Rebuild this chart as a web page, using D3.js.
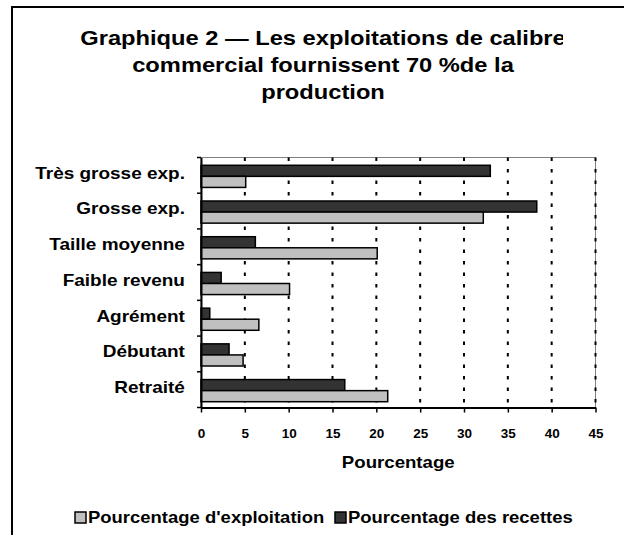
<!DOCTYPE html>
<html>
<head>
  <meta charset="utf-8">
  <script src="https://d3js.org/d3.v7.min.js"></script>
  <style>
    body { margin: 0; background: #fff; }
    text { font-family: "Liberation Sans", Arial, sans-serif; font-weight: bold; fill: #000; }
  </style>
</head>
<body>
  <svg id="chart"></svg>
  <script>
    // categories, top to bottom
    var categories = ["Très grosse exp.", "Grosse exp.", "Taille moyenne", "Faible revenu", "Agrément", "Débutant", "Retraité"];
    // series values (%)
    var recettes = [33, 38.3, 6.2, 2.3, 1.0, 3.2, 16.4];
    var exploitation = [5.1, 32.2, 20.1, 10.1, 6.6, 4.8, 21.3];
    var seriesNames = ["Pourcentage d'exploitation", "Pourcentage des recettes"];
    var xTicks = [0, 5, 10, 15, 20, 25, 30, 35, 40, 45];
    var titleLines = ["Graphique 2 — Les exploitations de calibre", "commercial fournissent 70 %de la", "production"];

    var W = 624, H = 535;
    var plot = { left: 201, right: 595.5, top: 157.5, bottom: 407.5 };
    var dark = "#333333", light = "#c0c0c0";

    var svg = d3.select("#chart").attr("width", W).attr("height", H);

    // outer frame (only left and top visible)
    svg.append("rect")
      .attr("x", 12).attr("y", 7).attr("width", 700).attr("height", 600)
      .attr("fill", "#fff").attr("stroke", "#000").attr("stroke-width", 2);

    // helper for horizontally stretched text
    function stretched(parent, x, y, str, size, sx, anchor) {
      return parent.append("text")
        .attr("transform", "translate(" + x + "," + y + ") scale(" + sx + ",1)")
        .attr("text-anchor", anchor || "middle")
        .style("font-size", size + "px")
        .text(str);
    }

    // title (first line is clipped on the right like in the source)
    svg.append("clipPath").attr("id", "titleClip")
      .append("rect").attr("x", 0).attr("y", 0).attr("width", 563).attr("height", 120);
    var title = svg.append("g").attr("clip-path", "url(#titleClip)");
    titleLines.forEach(function (t, i) {
      stretched(title, 323, 45 + i * 27, t, 20, 1.185);
    });

    // scales
    var x = d3.scaleLinear().domain([0, 45]).range([plot.left, plot.right]);
    var y = d3.scaleBand().domain(categories).range([plot.top, plot.bottom])
      .paddingInner(0.38).paddingOuter(0.19);
    var ySub = d3.scaleBand().domain(["recettes", "exploitation"]).range([0, y.bandwidth()]);

    // plot area border
    svg.append("rect")
      .attr("x", plot.left).attr("y", plot.top)
      .attr("width", plot.right - plot.left).attr("height", plot.bottom - plot.top)
      .attr("fill", "#fff").attr("stroke", "#808080").attr("stroke-width", 1);

    // dashed gridlines
    svg.append("g").selectAll("line")
      .data(xTicks.slice(1))
      .enter().append("line")
      .attr("x1", function (d) { return x(d); })
      .attr("x2", function (d) { return x(d); })
      .attr("y1", plot.top).attr("y2", plot.bottom)
      .attr("stroke", "#000").attr("stroke-width", 2)
      .attr("stroke-dasharray", "3.5,8");

    // bars
    var rows = categories.map(function (c, i) {
      return { cat: c, recettes: recettes[i], exploitation: exploitation[i] };
    });
    var groups = svg.append("g").selectAll("g")
      .data(rows).enter().append("g")
      .attr("transform", function (d) { return "translate(0," + (y(d.cat) + 1) + ")"; });
    groups.append("rect")
      .attr("x", x(0))
      .attr("y", ySub("recettes"))
      .attr("width", function (d) { return x(d.recettes) - x(0); })
      .attr("height", ySub.bandwidth())
      .attr("fill", dark).attr("stroke", "#000").attr("stroke-width", 1.5);
    groups.append("rect")
      .attr("x", x(0))
      .attr("y", ySub("exploitation"))
      .attr("width", function (d) { return x(d.exploitation) - x(0); })
      .attr("height", ySub.bandwidth())
      .attr("fill", light).attr("stroke", "#000").attr("stroke-width", 1.5);

    // x axis
    var xAxis = svg.append("g")
      .attr("transform", "translate(0," + plot.bottom + ")")
      .call(d3.axisBottom(x).tickValues(xTicks).tickSize(5).tickPadding(17).tickSizeOuter(0));
    xAxis.select(".domain").attr("stroke", "#000").attr("stroke-width", 2);
    xAxis.selectAll(".tick line").attr("stroke", "#000").attr("stroke-width", 1.5);
    xAxis.selectAll(".tick text")
      .style("font-size", "12.5px")
      .style("font-family", "'Liberation Sans', Arial, sans-serif")
      .attr("transform", "scale(1.08,1)");

    // y axis
    var yAxis = svg.append("g")
      .attr("transform", "translate(" + plot.left + ",0)")
      .call(d3.axisLeft(y).tickSize(0).tickPadding(14).tickSizeOuter(0));
    yAxis.select(".domain").attr("stroke", "#000").attr("stroke-width", 2);
    yAxis.selectAll(".tick text")
      .style("font-size", "16.5px")
      .style("font-family", "'Liberation Sans', Arial, sans-serif")
      .attr("dy", "0.2em")
      .attr("transform", "scale(1.15,1)");

    // category boundary ticks
    var step = y.step();
    var bounds = d3.range(categories.length + 1).map(function (i) { return plot.top + i * step; });
    svg.append("g").selectAll("line")
      .data(bounds).enter().append("line")
      .attr("x1", plot.left - 4).attr("x2", plot.left)
      .attr("y1", function (d) { return d; }).attr("y2", function (d) { return d; })
      .attr("stroke", "#000").attr("stroke-width", 1.5);

    // axis title
    stretched(svg, (plot.left + plot.right) / 2, 467.5, "Pourcentage", 16.5, 1.13);

    // legend
    var legendItems = [
      { name: seriesNames[0], fill: light, x: 75 },
      { name: seriesNames[1], fill: dark, x: 335 }
    ];
    var legend = svg.append("g").selectAll("g")
      .data(legendItems).enter().append("g");
    legend.append("rect")
      .attr("x", function (d) { return d.x; }).attr("y", 512)
      .attr("width", 11).attr("height", 11)
      .attr("fill", function (d) { return d.fill; })
      .attr("stroke", "#000").attr("stroke-width", 1.5);
    legend.each(function (d) {
      stretched(d3.select(this), d.x + 13, 523, d.name, 16.5, 1.12, "start");
    });
  </script>
</body>
</html>
